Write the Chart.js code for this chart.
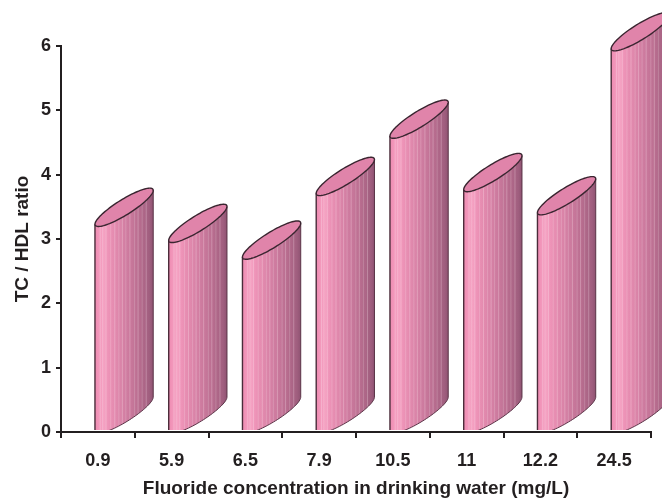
<!DOCTYPE html>
<html>
<head>
<meta charset="utf-8">
<script src="https://cdn.jsdelivr.net/npm/chart.js@4"></script>
<style>
  html, body { margin: 0; padding: 0; background: #ffffff; }
  #wrap { width: 662px; height: 500px; }
</style>
</head>
<body>
<div id="wrap"><canvas id="ratioChart"></canvas></div>
<script>
// data
const fluorideLevels = ['0.9', '5.9', '6.5', '7.9', '10.5', '11', '12.2', '24.5'];
const tcHdlRatio = [3.23, 2.98, 2.72, 3.71, 4.60, 3.77, 3.41, 5.96];
const yTicks = [0, 1, 2, 3, 4, 5, 6];

const ink = '#231f20';
const fontFamily = '"Liberation Sans", Arial, Helvetica, sans-serif';

// Draws each bar as a slanted pink cylinder, using the bar element geometry
const cylinderPlugin = {
    id: 'cylinders',
    afterDatasetsDraw(chart) {
        const ctx = chart.ctx;
        const meta = chart.getDatasetMeta(0);
        meta.data.forEach(bar => {
            const w = bar.width;
            const L = bar.x - w * 0.05;
            const R = L + w;
            const A = w / 2, B = w * 0.29, D = w * 0.155;
            const cx = L + A;
            const topC = bar.y - B;
            const botC = bar.base - B;
            const pt = (cy, t) => [cx + A * Math.cos(t), cy - B * Math.cos(t) - D * Math.sin(t)];
            const steps = 48;

            const sidePath = () => {
                ctx.beginPath();
                ctx.moveTo(L, bar.y);
                ctx.lineTo(L, bar.base);
                for (let i = 0; i <= steps; i++) {
                    const p = pt(botC, Math.PI + Math.PI * i / steps);
                    ctx.lineTo(p[0], p[1]);
                }
                ctx.lineTo(R, topC - B);
                for (let i = 0; i <= steps; i++) {
                    const p = pt(topC, 2 * Math.PI - Math.PI * i / steps);
                    ctx.lineTo(p[0], p[1]);
                }
                ctx.closePath();
            };

            ctx.save();
            ctx.beginPath();
            ctx.rect(0, 0, chart.width, bar.base - 1);
            ctx.clip();

            // side surface
            const grad = ctx.createLinearGradient(L, 0, R, 0);
            grad.addColorStop(0.00, '#ee8bb1');
            grad.addColorStop(0.07, '#f297bb');
            grad.addColorStop(0.15, '#f5a3c3');
            grad.addColorStop(0.22, '#ee94b8');
            grad.addColorStop(0.32, '#e58cb0');
            grad.addColorStop(0.44, '#da84a8');
            grad.addColorStop(0.55, '#cf7ca0');
            grad.addColorStop(0.66, '#c47598');
            grad.addColorStop(0.76, '#b86d8f');
            grad.addColorStop(0.86, '#ab6586');
            grad.addColorStop(0.94, '#9f5e7e');
            grad.addColorStop(1.00, '#8f5372');
            sidePath();
            ctx.fillStyle = grad;
            ctx.fill();

            // faint vertical stripes
            ctx.save();
            sidePath();
            ctx.clip();
            ctx.lineWidth = 0.8;
            [0.09, 0.13, 0.19, 0.27, 0.34, 0.41, 0.47, 0.53, 0.6, 0.68, 0.74, 0.81, 0.88].forEach((f, i) => {
                const x = L + w * f;
                ctx.strokeStyle = i % 2 ? 'rgba(255,255,255,0.22)' : 'rgba(255,235,245,0.35)';
                ctx.beginPath();
                ctx.moveTo(x, 0);
                ctx.lineTo(x, bar.base);
                ctx.stroke();
            });
            ctx.restore();

            // outlines of the side
            ctx.strokeStyle = '#4a2c3a';
            ctx.lineWidth = 1.4;
            ctx.beginPath();
            ctx.moveTo(L, bar.y);
            ctx.lineTo(L, bar.base);
            ctx.stroke();
            ctx.lineWidth = 1;
            ctx.beginPath();
            for (let i = 0; i <= steps; i++) {
                const p = pt(botC, Math.PI + Math.PI * i / steps);
                if (i === 0) ctx.moveTo(p[0], p[1]); else ctx.lineTo(p[0], p[1]);
            }
            ctx.lineTo(R, topC - B);
            ctx.strokeStyle = '#5a3447';
            ctx.stroke();
            ctx.restore();

            // top face
            ctx.save();
            ctx.beginPath();
            for (let i = 0; i <= steps * 2; i++) {
                const p = pt(topC, 2 * Math.PI * i / (steps * 2));
                if (i === 0) ctx.moveTo(p[0], p[1]); else ctx.lineTo(p[0], p[1]);
            }
            ctx.closePath();
            ctx.fillStyle = '#e084aa';
            ctx.fill();
            ctx.strokeStyle = '#3a2530';
            ctx.lineWidth = 1.4;
            ctx.stroke();
            ctx.restore();
        });
    }
};

new Chart(document.getElementById('ratioChart'), {
    type: 'bar',
    data: {
        labels: fluorideLevels,
        datasets: [{
            label: 'TC / HDL ratio',
            data: tcHdlRatio,
            backgroundColor: 'rgba(0,0,0,0)',
            borderWidth: 0,
            barPercentage: 1,
            categoryPercentage: 0.79
        }]
    },
    options: {
        responsive: true,
        maintainAspectRatio: false,
        animation: false,
        layout: { padding: { left: 0, right: 11, top: 46, bottom: 0 } },
        plugins: {
            legend: { display: false },
            tooltip: { enabled: false }
        },
        scales: {
            x: {
                offset: true,
                grid: { drawOnChartArea: false, drawTicks: true, tickLength: 6, color: ink, lineWidth: 2, offset: true },
                border: { display: true, color: ink, width: 2 },
                ticks: {
                    color: ink,
                    padding: 12,
                    maxRotation: 0,
                    font: { family: fontFamily, size: 18, weight: 'bold' }
                },
                title: {
                    display: true,
                    text: 'Fluoride concentration in drinking water (mg/L)',
                    color: ink,
                    padding: { top: 0, bottom: 0 },
                    font: { family: fontFamily, size: 19, weight: 'bold' }
                },
                afterFit(scale) { scale.height = 68; }
            },
            y: {
                min: 0,
                max: 6,
                afterBuildTicks(scale) { scale.ticks = yTicks.map(v => ({ value: v })); },
                grid: { drawOnChartArea: false, drawTicks: true, tickLength: 5, color: ink, lineWidth: 2 },
                border: { display: true, color: ink, width: 2 },
                ticks: {
                    color: ink,
                    padding: 5,
                    font: { family: fontFamily, size: 18, weight: 'bold' }
                },
                title: {
                    display: true,
                    text: 'TC / HDL ratio',
                    color: ink,
                    padding: { top: 11, bottom: 0 },
                    font: { family: fontFamily, size: 19, weight: 'bold' }
                },
                afterFit(scale) { scale.width = 61; }
            }
        }
    },
    plugins: [cylinderPlugin]
});
</script>
</body>
</html>
